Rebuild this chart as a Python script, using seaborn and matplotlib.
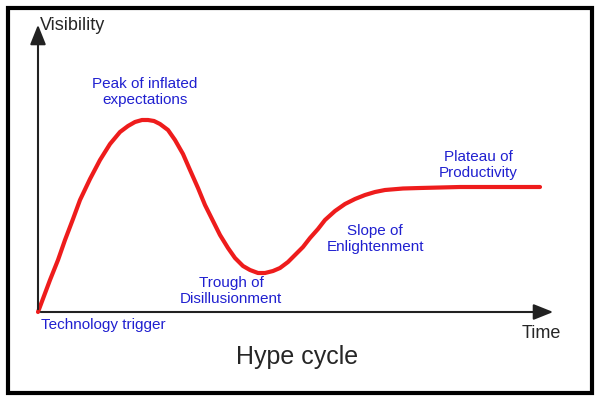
import matplotlib
matplotlib.use("Agg")
import matplotlib.pyplot as plt
import seaborn as sns
import pandas as pd
from matplotlib.patches import Rectangle

time_vals = [0, 6, 12, 20, 27, 35, 42, 52, 62, 72, 82, 90, 97, 104, 110, 116, 122, 130, 137, 145,
             152, 160, 167, 175, 182, 190, 197, 205, 212, 220, 227, 235, 242, 250, 257, 265,
             272, 280, 287, 297, 307, 317, 327, 337, 347, 365, 382, 402, 422, 462, 502]
visibility = [0, 16, 32, 52, 72, 93, 112, 133, 152, 168, 180, 186, 190, 192, 192, 191, 188, 182, 172, 158,
              142, 124, 107, 91, 77, 64, 54, 46, 42, 39, 39, 41, 44, 50, 57, 65,
              74, 83, 92, 101, 108, 113, 117, 120, 122, 123.5, 124, 124.5, 125, 125, 125]
labels = ["Peak of inflated\nexpectations", "Trough of\nDisillusionment",
          "Slope of\nEnlightenment", "Plateau of\nProductivity", "Technology trigger"]

sns.set_theme(style="white")
plt.rcParams['font.family'] = ['Liberation Sans', 'DejaVu Sans']
fig = plt.figure(figsize=(6, 4.01), dpi=100)
ax = fig.add_axes([0, 0, 1, 1])
ax.set_xlim(-38, 562)
ax.set_ylim(-89, 312)
ax.axis("off")

df = pd.DataFrame({"t": time_vals, "v": visibility})
sns.lineplot(data=df, x="t", y="v", sort=False, color="#ee1c1c", lw=3, ax=ax, legend=False)

ax.add_patch(Rectangle((-30, -81), 584, 385, fill=False, ec="black", lw=3, clip_on=False))
ax.annotate("", xy=(518, 0), xytext=(0, 0),
            arrowprops=dict(arrowstyle="-|>,head_length=1.0,head_width=0.4", color="#222", lw=1.5))
ax.annotate("", xy=(0, 290), xytext=(0, 0),
            arrowprops=dict(arrowstyle="-|>,head_length=1.0,head_width=0.4", color="#222", lw=1.5))
ax.text(2, 287, "Visibility", fontsize=13, va="center", ha="left")
ax.text(484, -21, "Time", fontsize=13, va="center", ha="left")
ax.text(259, -45, "Hype cycle", fontsize=18, va="center", ha="center")

blue = "#2020d0"
pos = [(107, 220), (193, 21), (337, 73), (440, 147), (65, -13)]
for (x, y), lab in zip(pos, labels):
    ax.text(x, y, lab, color=blue, fontsize=11, ha="center", va="center", linespacing=1.2)

fig.savefig("out.png", dpi=100)
